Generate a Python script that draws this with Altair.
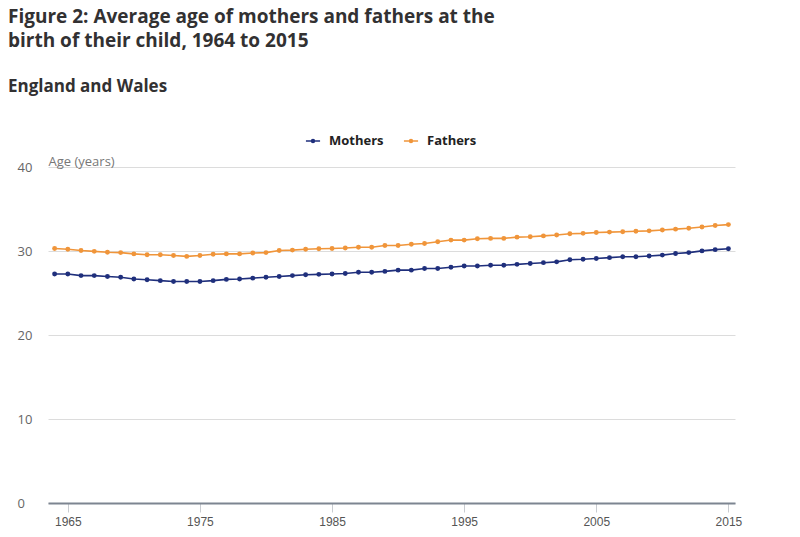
import altair as alt
import pandas as pd

years = list(range(1964, 2016))

mothers = [27.27, 27.27, 27.07, 27.07, 26.97, 26.87, 26.67, 26.57, 26.47, 26.37,
           26.37, 26.37, 26.47, 26.62, 26.67, 26.77, 26.87, 26.97, 27.07, 27.17,
           27.22, 27.27, 27.32, 27.47, 27.47, 27.57, 27.72, 27.72, 27.92, 27.92,
           28.07, 28.21, 28.21, 28.31, 28.31, 28.41, 28.51, 28.61, 28.71, 28.96,
           29.01, 29.11, 29.21, 29.31, 29.31, 29.41, 29.51, 29.71, 29.81, 30.01,
           30.16, 30.26]

fathers = [30.30, 30.20, 30.06, 29.96, 29.86, 29.81, 29.66, 29.56, 29.56, 29.46,
           29.36, 29.46, 29.61, 29.66, 29.66, 29.76, 29.81, 30.06, 30.11, 30.2,
           30.26, 30.3, 30.35, 30.45, 30.45, 30.65, 30.65, 30.8, 30.9, 31.1,
           31.3, 31.3, 31.45, 31.5, 31.5, 31.65, 31.7, 31.8, 31.9, 32.05,
           32.1, 32.2, 32.25, 32.3, 32.35, 32.4, 32.5, 32.6, 32.7, 32.85,
           33.04, 33.14]

series = ["Mothers", "Fathers"]
colors = ["#1f2f7c", "#f0953a"]
x_ticks = [1965, 1975, 1985, 1995, 2005, 2015]
y_ticks = [0, 10, 20, 30, 40]

rows = []
for y, m, f in zip(years, mothers, fathers):
    rows.append({"year": y, "series": "Mothers", "age": m})
    rows.append({"year": y, "series": "Fathers", "age": f})
df = pd.DataFrame(rows)

FONT = "Open Sans"

chart = (
    alt.Chart(df)
    .mark_line(strokeWidth=1.6, point=alt.OverlayMarkDef(size=24, filled=True, opacity=1))
    .encode(
        x=alt.X(
            "year:Q",
            scale=alt.Scale(domain=[1963.5, 2015.5], nice=False, zero=False),
            axis=alt.Axis(
                values=x_ticks, format="d", title=None, grid=False,
                domainColor="#7d8591", domainWidth=2,
                ticks=True, tickColor="#c9ccd1", tickSize=9, tickWidth=1,
                labelColor="#555555", labelFontSize=12, labelFont="Liberation Sans",
                labelPadding=4,
            ),
        ),
        y=alt.Y(
            "age:Q",
            scale=alt.Scale(domain=[0, 40], nice=False),
            axis=alt.Axis(
                values=y_ticks, title="Age (years)", domain=False, ticks=False,
                gridColor="#dcdcdc", gridWidth=1,
                labelAlign="left", labelPadding=31, labelColor="#666666",
                labelFontSize=13, labelFont=FONT,
                titleAngle=0, titleX=0, titleY=-2, titleAlign="left",
                titleBaseline="alphabetic", titleFont=FONT, titleFontSize=13,
                titleFontWeight="normal", titleColor="#777777",
            ),
        ),
        color=alt.Color(
            "series:N",
            scale=alt.Scale(domain=series, range=colors),
            sort=series,
            legend=alt.Legend(
                title=None, orient="none", direction="horizontal",
                legendX=257, legendY=-34,
                labelFont=FONT, labelFontSize=13, labelFontWeight="bold",
                labelColor="#222222", labelOffset=8, columnPadding=16,
                symbolType="M-1,0H1M0.2,0A0.2,0.2,0,1,1,-0.2,0A0.2,0.2,0,1,1,0.2,0",
                symbolSize=200, symbolStrokeWidth=1.6,
            ),
        ),
    )
    .properties(
        width=687,
        height=336,
        title=alt.TitleParams(
            text=["Figure 2: Average age of mothers and fathers at the",
                  "birth of their child, 1964 to 2015"],
            subtitle="England and Wales",
            anchor="start", frame="group", dx=-40, offset=38,
            font=FONT, fontSize=19, fontWeight="bold", color="#323132",
            lineHeight=24,
            subtitleFont=FONT, subtitleFontSize=17, subtitleFontWeight="bold",
            subtitleColor="#323132", subtitlePadding=28,
        ),
        autosize=alt.AutoSizeParams(type="none"),
        padding={"left": 40, "top": 159, "right": 57, "bottom": 26},
    )
    .configure_view(stroke=None)
)

chart.save("out.html", embed_options={"renderer": "svg", "actions": False})
